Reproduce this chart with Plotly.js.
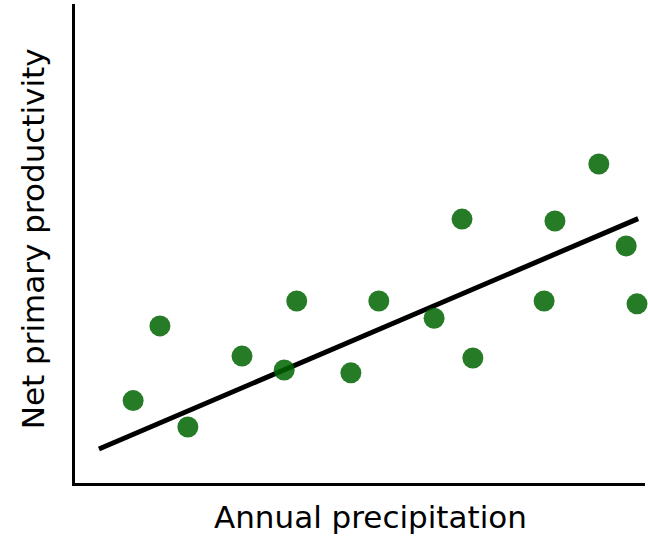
<!DOCTYPE html>
<html>
<head>
<meta charset="utf-8">
<script src="https://cdn.plot.ly/plotly-3.0.1.min.js"></script>
<style>html,body{margin:0;padding:0;background:#fff;}#chart{width:648px;height:538px;}</style>
</head>
<body>
<div id="chart"></div>
<script>
// Annual precipitation (arbitrary units, 0-100)
const precipitation = [10.2, 14.9, 19.8, 29.3, 36.7, 38.9, 48.4, 53.3, 63.0, 67.9, 69.8, 82.3, 84.2, 91.9, 96.7, 98.6];
// Net primary productivity (arbitrary units, 0-100)
const productivity = [17.2, 32.8, 11.7, 26.5, 23.6, 38.0, 23.0, 38.0, 34.4, 55.1, 26.1, 38.0, 54.7, 66.6, 49.5, 37.4];
// Fitted trend line end points
const trendX = [4.2, 98.8];
const trendY = [7.1, 55.2];
const xLabel = 'Annual precipitation';
const yLabel = 'Net primary productivity';

const traces = [
  {
    x: trendX, y: trendY, type: 'scatter', mode: 'lines',
    line: {color: 'black', width: 5}, hoverinfo: 'skip', cliponaxis: false
  },
  {
    x: precipitation, y: productivity, type: 'scatter', mode: 'markers',
    marker: {size: 21, color: 'darkgreen', opacity: 0.85, line: {width: 0}},
    cliponaxis: false
  }
];

const labelFont = {family: 'DejaVu Sans', size: 31, color: 'black'};

const layout = {
  width: 648, height: 538,
  margin: {l: 75, r: 3, t: 4, b: 55, pad: 0},
  paper_bgcolor: 'white', plot_bgcolor: 'white',
  showlegend: false,
  font: {family: 'DejaVu Sans', size: 31, color: 'black'},
  xaxis: {
    range: [0, 100], showgrid: false, zeroline: false, showticklabels: false, ticks: '',
    showline: true, linecolor: 'black', linewidth: 3
  },
  yaxis: {
    range: [0, 100], showgrid: false, zeroline: false, showticklabels: false, ticks: '',
    showline: true, linecolor: 'black', linewidth: 3
  },
  annotations: [
    {text: xLabel, xref: 'paper', yref: 'paper', x: 0.518, y: 0, xanchor: 'center', yanchor: 'middle',
     yshift: -34, showarrow: false, font: labelFont},
    {text: yLabel, xref: 'paper', yref: 'paper', x: 0, y: 0.509, xanchor: 'center', yanchor: 'middle',
     xshift: -42, textangle: -90, showarrow: false, font: labelFont}
  ]
};

Plotly.newPlot('chart', traces, layout, {displayModeBar: false, staticPlot: true});
</script>
</body>
</html>
